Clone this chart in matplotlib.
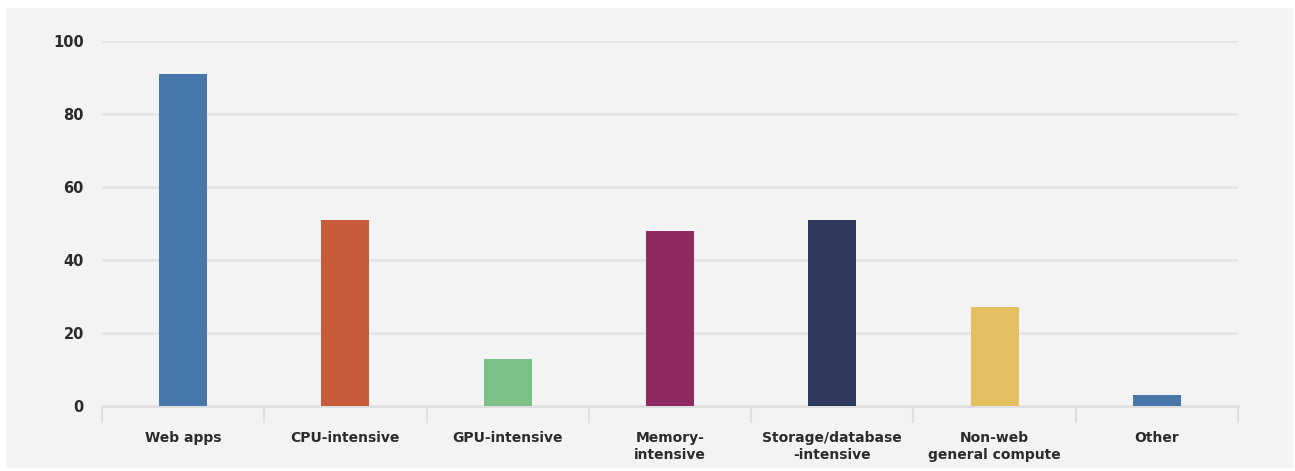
import matplotlib.pyplot as plt
from matplotlib.patches import Rectangle

# workload categories and share of respondents (%)
categories = [
    "Web apps",
    "CPU-intensive",
    "GPU-intensive",
    "Memory-\nintensive",
    "Storage/database\n-intensive",
    "Non-web\ngeneral compute",
    "Other",
]
values = [91, 51, 13, 48, 51, 27, 3]
colors = ["#4577A9", "#C85B3A", "#7CC088", "#8F2A61", "#2F3A5D", "#E3BF5F", "#4577A9"]
yticks = [0, 20, 40, 60, 80, 100]

panel = "#F3F3F3"
text_color = "#2B2B2B"
plt.rcParams["font.family"] = ["DejaVu Sans"]

fig = plt.figure(figsize=(12.95, 4.71), dpi=100, facecolor="white")
fig.add_artist(Rectangle((6 / 1295, 3 / 471), 1287 / 1295, 460 / 471,
                         transform=fig.transFigure, facecolor=panel,
                         edgecolor="none", zorder=-10))

ax = fig.add_axes([102 / 1295, 1 - 406 / 471, 1136 / 1295, 365 / 471])
ax.set_facecolor(panel)

x = range(len(categories))
ax.bar(x, values, width=0.295, color=colors, zorder=3)

ax.set_xlim(-0.5, len(categories) - 0.5)
ax.set_ylim(0, 100)
ax.set_yticks(yticks)
ax.set_yticklabels([str(t) for t in yticks], fontsize=10.5, fontweight="bold",
                   color=text_color)
ax.grid(axis="y", color="#E4E4E4", linewidth=2, zorder=0)

ax.set_xticks(list(x))
ax.set_xticklabels(categories, fontsize=10, fontweight="bold",
                   color=text_color, linespacing=1.25)
ax.set_xticks([i - 0.5 for i in range(len(categories) + 1)], minor=True)
ax.tick_params(axis="x", which="major", length=0, pad=18)
ax.tick_params(axis="x", which="minor", length=12, width=1.5, color="#DEDEDE")
ax.tick_params(axis="y", length=0, pad=13)

for side in ["top", "right", "left"]:
    ax.spines[side].set_visible(False)
ax.spines["bottom"].set_color("#DEDEDE")
ax.spines["bottom"].set_linewidth(2)
ax.spines["bottom"].set_zorder(1)

fig.savefig("out.png", dpi=100, facecolor="white")
